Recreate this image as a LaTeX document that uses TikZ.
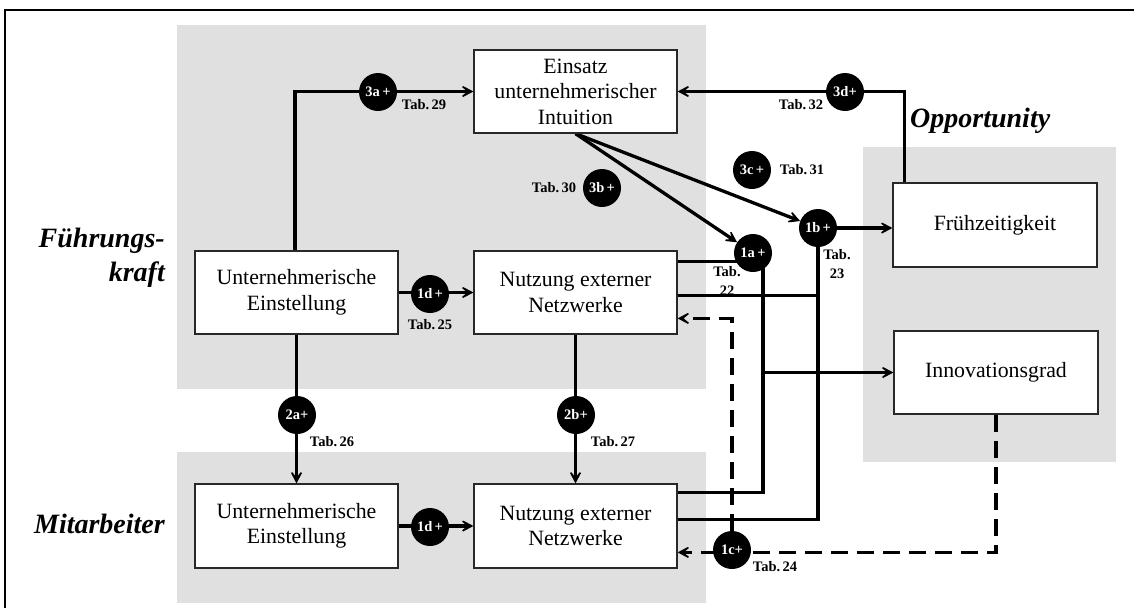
\documentclass[tikz,border=0pt]{standalone}
\usepackage{fontspec}
\setmainfont{Liberation Serif}
\usetikzlibrary{arrows.meta,calc}
\definecolor{panel}{RGB}{224,224,224}
\definecolor{edge}{RGB}{40,40,40}
\pgfdeclarelayer{panels}
\pgfdeclarelayer{wires}
\pgfsetlayers{panels,wires,main}
\begin{document}
\begin{tikzpicture}[x=1pt,y=-1pt,
  box/.style={draw=edge,line width=1.2pt,fill=white,minimum width=203pt,minimum height=83pt,
    align=center,inner sep=0pt,font=\fontsize{21.8}{25.5}\selectfont},
  hyp/.style={circle,fill=black,minimum size=38pt,inner sep=0pt,text=white,
    font=\bfseries\fontsize{14.5}{14.5}\selectfont},
  tab/.style={font=\bfseries\fontsize{14.5}{19}\selectfont,inner sep=0pt,align=center},
  group/.style={font=\bfseries\itshape\fontsize{28}{34}\selectfont,inner sep=0pt,align=right},
  wire/.style={line width=3.3pt},
  conn/.style={wire,-{Stealth[length=17pt,width=18pt,inset=11pt]}},
  dconn/.style={conn,dash pattern=on 17pt off 9pt}
]
\useasboundingbox (0,0) rectangle (1134,608);

% frame
\draw[line width=2pt] (1134,10) -- (5,10) -- (5,608);

% grouping panels
\begin{pgfonlayer}{panels}
  \fill[panel] (177,25) rectangle (706,389);
  \fill[panel] (177,452) rectangle (706,603);
  \fill[panel] (863,147) rectangle (1116,462);
\end{pgfonlayer}

% group labels
\node[group,anchor=east] (gfk) at (165,258) {Führungs-\\kraft};
\node[group,anchor=east] (gma) at (165,524) {Mitarbeiter};
\node[group,anchor=west] (gop) at (910,121) {Opportunity};

% constructs
\node[box] (einsatz) at (575.5,91.5) {Einsatz\\unternehmerischer\\Intuition};
\node[box] (ue1) at (296.5,292.5) {Unternehmerische\\Einstellung};
\node[box] (nn1) at (575.5,292.5) {Nutzung externer\\Netzwerke};
\node[box,minimum height=84pt] (ue2) at (296.5,526) {Unternehmerische\\Einstellung};
\node[box,minimum height=84pt] (nn2) at (575.5,526) {Nutzung externer\\Netzwerke};
\node[box,minimum width=204pt,minimum height=84pt] (fruh) at (995,225) {Frühzeitigkeit};
\node[box,minimum width=204pt] (innov) at (996,372.5) {Innovationsgrad};

% hypotheses
\node[hyp] (c3a) at (378,92) {3a\,+};
\node[hyp] (c3d) at (845,92) {3d+};
\node[hyp] (c3c) at (752,170) {3c\,+};
\node[hyp] (c3b) at (602,188) {3b\,+};
\node[hyp] (c1a) at (753,253) {1a\,+};
\node[hyp] (c1b) at (818,228) {1b\,+};
\node[hyp] (c1d1) at (430,294) {1d\,+};
\node[hyp] (c1d2) at (430,527) {1d\,+};
\node[hyp] (c2a) at (297,415) {2a+};
\node[hyp] (c2b) at (576,415) {2b+};
\node[hyp] (c1c) at (732,550) {1c+};

% table references
\node[tab] (t29) at (424,105) {Tab.\,29};
\node[tab] (t32) at (801,105) {Tab.\,32};
\node[tab] (t31) at (802,170) {Tab.\,31};
\node[tab] (t30) at (554,188) {Tab.\,30};
\node[tab] (t22) at (727,281) {Tab.\\22};
\node[tab] (t23) at (837,264) {Tab.\\23};
\node[tab] (t25) at (430,325) {Tab.\,25};
\node[tab] (t26) at (332,442) {Tab.\,26};
\node[tab] (t27) at (613,442) {Tab.\,27};
\node[tab] (t24) at (775,567) {Tab.\,24};

% attachment points on the network boxes
\coordinate (n1a) at ($(nn1.north east)+(0,11)$);
\coordinate (n1b) at ($(nn1.north east)+(0,45)$);
\coordinate (n1c) at ($(nn1.north east)+(0,68)$);
\coordinate (n2a) at ($(nn2.north east)+(0,9)$);
\coordinate (n2b) at ($(nn2.north east)+(0,36)$);
\coordinate (n2c) at ($(nn2.north east)+(0,69)$);
\coordinate (busA) at ($(c1a)+(10,0)$);
\coordinate (fup) at ($(fruh.north west)+(12,0)$);

\begin{pgfonlayer}{wires}
  % intuition paths
  \draw[conn] ($(ue1.north)+(-1.5,0)$) |- (einsatz.west);
  \draw[conn] (fup) |- (einsatz.east);
  \draw[conn] (einsatz.south) -- (c1a);
  \draw[conn] (einsatz.south) -- (c1b);
  % attitude -> network use
  \draw[conn] (ue1) -- (nn1);
  \draw[conn] (ue2) -- (nn2);
  \draw[conn] (ue1.south) -- (ue2.north);
  \draw[conn] (nn1.south) -- (nn2.north);
  % network use -> opportunity
  \draw[wire] (n1a) -- (n1a -| busA);
  \draw[wire] (busA) |- (n2a);
  \draw[conn] (busA |- innov.west) -- (innov.west);
  \draw[wire] (n1b) -- (n1b -| c1b);
  \draw[wire] (c1b) |- (n2b);
  \draw[conn] (c1b) -- (c1b -| fruh.west);
  % moderated paths
  \draw[dconn] (innov.south) |- (n2c);
  \draw[dconn] (c1c) |- (n1c);
\end{pgfonlayer}
\end{tikzpicture}
\end{document}
